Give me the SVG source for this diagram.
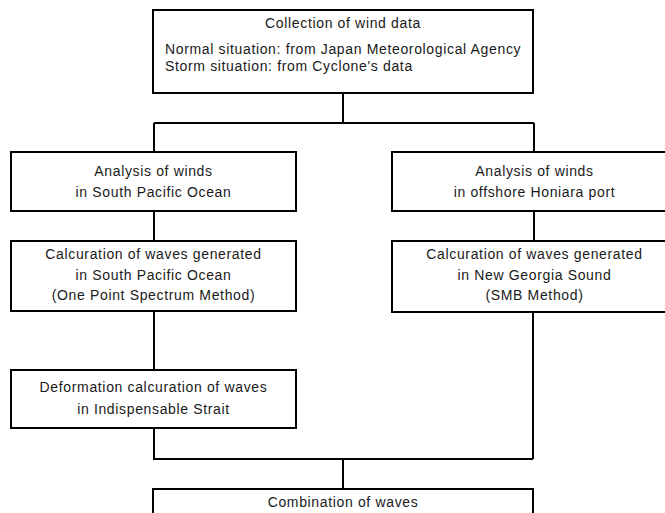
<svg xmlns="http://www.w3.org/2000/svg" width="665" height="513" viewBox="0 0 665 513">
<style>
.box{fill:#fff;stroke:#000;stroke-width:2}
.c{fill:none;stroke:#000;stroke-width:2}
text{font-family:"Liberation Sans",Arial,sans-serif;font-size:14px;letter-spacing:0.65px;fill:#1a1a1a}
.m{text-anchor:middle}
</style>
<rect width="665" height="513" fill="#fff"/>
<g id="connectors">
<path class="c" d="M343 93V123M154 123H534M154 123V152M534 123V152M154 211V241M534 211V241M154 311V370M154 428V459H533M533 312V459M343 459V489"/>
</g>
<g id="collection">
<rect class="box" x="153" y="10" width="380" height="83"/>
<text class="m" x="343" y="28">Collection of wind data</text>
<text x="165" y="54">Normal situation: from Japan Meteorological Agency</text>
<text x="165" y="71">Storm situation: from Cyclone's data</text>
</g>
<g id="winds-south-pacific">
<rect class="box" x="11" y="152" width="285" height="59"/>
<text class="m" x="153.5" y="176">Analysis of winds</text>
<text class="m" x="153.5" y="197">in South Pacific Ocean</text>
</g>
<g id="winds-honiara">
<rect class="box" x="392" y="152" width="285" height="59"/>
<text class="m" x="534.5" y="176">Analysis of winds</text>
<text class="m" x="534.5" y="197">in offshore Honiara port</text>
</g>
<g id="waves-south-pacific">
<rect class="box" x="11" y="241" width="285" height="70"/>
<text class="m" x="153.5" y="259">Calcuration of waves generated</text>
<text class="m" x="153.5" y="280">in South Pacific Ocean</text>
<text class="m" x="153.5" y="300">(One Point Spectrum Method)</text>
</g>
<g id="waves-new-georgia">
<rect class="box" x="392" y="241" width="285" height="71"/>
<text class="m" x="534.5" y="259">Calcuration of waves generated</text>
<text class="m" x="534.5" y="280">in New Georgia Sound</text>
<text class="m" x="534.5" y="300">(SMB Method)</text>
</g>
<g id="deformation">
<rect class="box" x="11" y="370" width="285" height="58"/>
<text class="m" x="153.5" y="392">Deformation calcuration of waves</text>
<text class="m" x="153.5" y="414">in Indispensable Strait</text>
</g>
<g id="combination">
<rect class="box" x="153" y="489" width="380" height="40"/>
<text class="m" x="343" y="507">Combination of waves</text>
</g>
</svg>
